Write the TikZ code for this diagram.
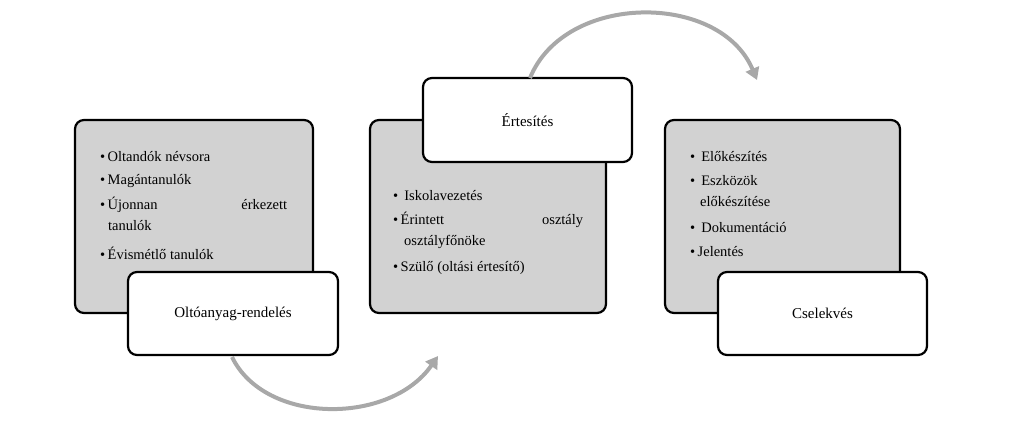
\documentclass[tikz,border=0pt]{standalone}
\usepackage{fontspec}
\setmainfont{Liberation Serif}
\usetikzlibrary{arrows.meta}
\definecolor{gbox}{HTML}{D2D2D2}
\definecolor{garr}{HTML}{A8A8A8}
\tikzset{
 graybox/.style={draw=black,line width=2.2pt,fill=gbox,rounded corners=9pt},
 whitebox/.style={draw=black,line width=2.2pt,fill=white,rounded corners=9pt},
 txt/.style={anchor=west,font=\fontsize{14.5}{17}\selectfont,inner sep=0pt},
 lbl/.style={font=\fontsize{15}{18}\selectfont},
 curarrow/.style={draw=garr,line width=4pt,-{Triangle[length=12pt,width=14pt]}}
}
\begin{document}
\begin{tikzpicture}[x=1pt,y=-1pt]
\useasboundingbox (0,0) rectangle (1024,433);
% boxes
\draw[graybox] (75,120) rectangle (313,313);
\draw[graybox] (370,120) rectangle (606,313);
\draw[graybox] (665,120) rectangle (900,313);
\node[whitebox,minimum width=210pt,minimum height=83pt,lbl] (w1) at (233,313.5) {Oltóanyag-rendelés};
\node[whitebox,minimum width=209pt,minimum height=84pt,lbl] (w2) at (527.5,120) {Értesítés};
\node[whitebox,minimum width=209pt,minimum height=83pt,lbl] (w3) at (822.5,313.5) {Cselekvés};
% arrows
\coordinate (a1s) at (232,357);
\coordinate (a1e) at (438,356);
\draw[curarrow] (a1s) .. controls (265,425) and (390,425) .. (a1e);
\coordinate (a2s) at (530,78);
\coordinate (a2e) at (757,80);
\draw[curarrow] (a2s) .. controls (565,-8) and (720,-8) .. (a2e);
% texts box 1
\node[txt] (t11) at (100,157) {•\,Oltandók névsora};
\node[txt] (t12) at (100,181) {•\,Magántanulók};
\node[txt] (t13) at (100,205) {\makebox[187pt][s]{•\,Újonnan\hfill érkezett}};
\node[txt] (t14) at (108,226) {tanulók};
\node[txt] (t15) at (100,253) {•\,Évismétlő tanulók};
% texts box 2
\node[txt] (t21) at (393,196) {•\, Iskolavezetés};
\node[txt] (t22) at (393,220) {\makebox[190pt][s]{•\,Érintett\hfill osztály}};
\node[txt] (t23) at (404,242) {osztályfőnöke};
\node[txt] (t24) at (393,268) {•\,Szülő (oltási értesítő)};
% texts box 3
\node[txt] (t31) at (690,157) {•\, Előkészítés};
\node[txt] (t32) at (690,181) {•\, Eszközök};
\node[txt] (t33) at (700,202) {előkészítése};
\node[txt] (t34) at (690,228) {•\, Dokumentáció};
\node[txt] (t35) at (690,252) {•\,Jelentés};
\end{tikzpicture}
\end{document}
